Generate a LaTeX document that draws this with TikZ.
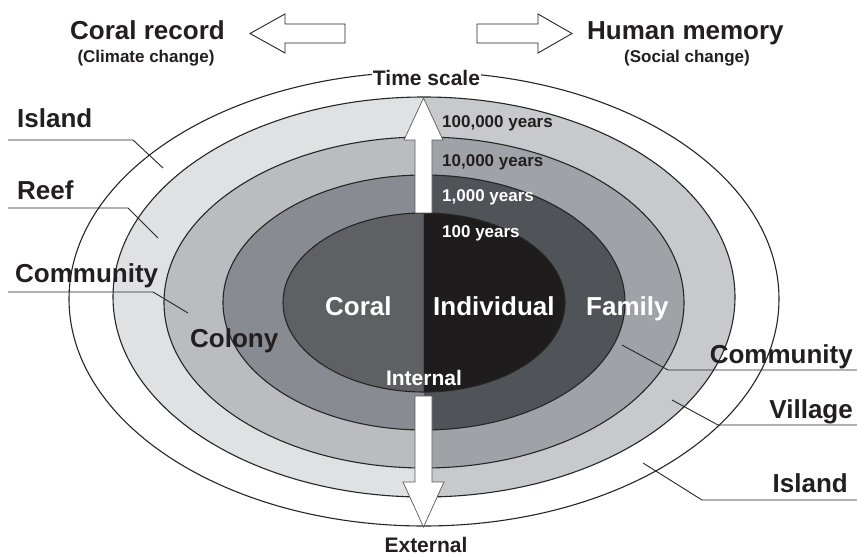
\documentclass[tikz,border=0pt]{standalone}
\usepackage{fontspec}
\setmainfont{Liberation Sans}
\definecolor{txt}{HTML}{231F20}
\definecolor{ringline}{HTML}{262626}
\definecolor{lA}{HTML}{E0E1E3}
\definecolor{rA}{HTML}{C7C9CC}
\definecolor{lB}{HTML}{BABCC0}
\definecolor{rB}{HTML}{9FA2A6}
\definecolor{lC}{HTML}{888B91}
\definecolor{rC}{HTML}{505357}
\definecolor{lD}{HTML}{5E6063}
\definecolor{rD}{HTML}{1E1C1C}
\newcommand\halfring[5]{%
  \begin{scope}\clip (0,0) rectangle (423.5,556);
    \fill[#4] (424,#1) ellipse [x radius=#2pt, y radius=#3pt];\end{scope}
  \begin{scope}\clip (423.5,0) rectangle (857,556);
    \fill[#5] (424,#1) ellipse [x radius=#2pt, y radius=#3pt];\end{scope}
  \draw[ring] (424,#1) ellipse [x radius=#2pt, y radius=#3pt];}
\begin{document}
\begin{tikzpicture}[x=1pt,y=-1pt,
  big/.style={font=\fontsize{26}{28}\selectfont\bfseries, text=txt, inner sep=0pt},
  sub/.style={font=\fontsize{17}{19}\selectfont\bfseries, text=txt, inner sep=0pt},
  mid/.style={font=\fontsize{21}{23}\selectfont\bfseries, text=txt, inner sep=0pt},
  yrs/.style={font=\fontsize{17}{19}\selectfont\bfseries, inner sep=0pt, anchor=base west},
  ring/.style={draw=ringline, line width=1.1pt},
  leader/.style={draw=ringline, line width=0.9pt},
  hollow/.style={draw=ringline, fill=white, line width=0.9pt, line join=miter},
  vert/.style={draw=gray!70!black, fill=white, line width=0.7pt, line join=miter}]
\useasboundingbox (0,0) rectangle (857,556);
\fill[white] (0,0) rectangle (857,556);
% rings
\draw[ring, fill=white] (424,299) ellipse [x radius=355pt, y radius=227pt];
\halfring{297}{311}{200}{lA}{rA}
\halfring{302.5}{260}{165.5}{lB}{rB}
\halfring{302.5}{201}{127.5}{lC}{rC}
\halfring{302.5}{141}{89.5}{lD}{rD}
% time scale arrows
\draw[vert] (415,213) -- (415,140) -- (404,140) -- (423.5,98) -- (443,140) -- (432,140) -- (432,213) -- cycle;
\draw[vert] (415,396) -- (415,482) -- (403,482) -- (423.5,527) -- (444,482) -- (432,482) -- (432,396) -- cycle;
% top arrows
\draw[hollow] (345,24) -- (285,24) -- (285,14) -- (250,33.5) -- (285,53) -- (285,43) -- (345,43) -- cycle;
\draw[hollow] (477,24) -- (538,24) -- (538,14) -- (572,33.5) -- (538,53) -- (538,43) -- (477,43) -- cycle;
% headings
\node[big, anchor=base west] (coralrec) at (70,40) {Coral record};
\node[sub, anchor=base] (climate) at (146,63) {(Climate change)};
\node[big, anchor=base west] (human) at (587,40) {Human memory};
\node[sub, anchor=base] (social) at (687,63) {(Social change)};
\node[mid, anchor=base, fill=white, inner sep=1pt] (tscale) at (426.5,86) {Time scale};
% years
\node[yrs, text=txt] (y5) at (442,128) {100,000 years};
\node[yrs, text=txt] (y4) at (442,167) {10,000 years};
\node[yrs, text=white] (y3) at (442,202) {1,000 years};
\node[yrs, text=white] (y2) at (442,238) {100 years};
% inner labels
\node[big, text=white, anchor=base west] (coral) at (325,315) {Coral};
\node[big, text=white, anchor=base west] (indiv) at (433,315) {Individual};
\node[big, text=white, anchor=base west] (family) at (586,315) {Family};
\node[big, anchor=base west] (colony) at (190,347) {Colony};
\node[mid, text=white, anchor=base] (internal) at (424,385) {Internal};
\node[mid, anchor=base] (external) at (426,552) {External};
% left labels
\node[big, anchor=base west] (lisl) at (17,128) {Island};
\node[big, anchor=base west] (lreef) at (17,200) {Reef};
\node[big, anchor=base west] (lcom) at (15,283) {Community};
\coordinate (a1) at (8,140); \coordinate (a2) at (133,140); \coordinate (a3) at (163,168);
\coordinate (b1) at (8,208); \coordinate (b2) at (128,208); \coordinate (b3) at (158,238);
\coordinate (c1) at (8,292); \coordinate (c2) at (153,292); \coordinate (c3) at (188,313);
\draw[leader] (a1) -- (a2) -- (a3);
\draw[leader] (b1) -- (b2) -- (b3);
\draw[leader] (c1) -- (c2) -- (c3);
% right labels
\node[big, anchor=base east] (rcom) at (853,363) {Community};
\node[big, anchor=base east] (rvil) at (853,418) {Village};
\node[big, anchor=base east] (risl) at (848,492) {Island};
\coordinate (d1) at (857,370); \coordinate (d2) at (668,370); \coordinate (d3) at (622,345);
\coordinate (e1) at (857,425); \coordinate (e2) at (718,425); \coordinate (e3) at (672,400);
\coordinate (f1) at (857,500); \coordinate (f2) at (702,500); \coordinate (f3) at (643,463);
\draw[leader] (d1) -- (d2) -- (d3);
\draw[leader] (e1) -- (e2) -- (e3);
\draw[leader] (f1) -- (f2) -- (f3);
\end{tikzpicture}
\end{document}
